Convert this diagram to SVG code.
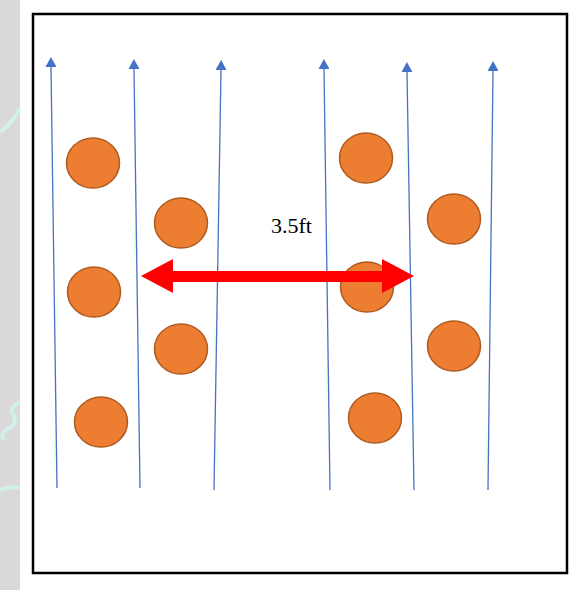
<svg xmlns="http://www.w3.org/2000/svg" width="572" height="590" viewBox="0 0 572 590">
<defs>
<style>
.row{stroke:#4472C4;stroke-width:1.3;fill:none}
.plant{fill:#ED7D31;stroke:#AE5A21;stroke-width:1.5}
.lbl{font-family:"Liberation Serif",serif;font-size:22px;fill:#000}
</style>
<marker id="tri" markerWidth="10" markerHeight="11" refX="0" refY="5.5" orient="auto" markerUnits="userSpaceOnUse" viewBox="0 0 10 11">
<path d="M0,0 L10,5.5 L0,11 Z" fill="#4472C4"/>
</marker>
</defs>
<rect x="0" y="0" width="572" height="590" fill="#ffffff"/>
<rect x="0" y="0" width="20" height="590" fill="#DAD8D8"/>
<g fill="none" stroke="#CFF7F2" stroke-width="4" opacity="0.8">
<path d="M0,132 Q12,124 20,108"/>
<path d="M20,402 Q8,408 14,416 Q18,424 6,430 Q0,434 4,440"/>
<path d="M0,490 Q10,486 20,488"/>
</g>
<rect x="33" y="14" width="534" height="559" fill="#ffffff" stroke="#000" stroke-width="2.5"/>
<g id="connectors">
<line class="row" x1="57" y1="488" x2="51" y2="67" marker-end="url(#tri)"/>
<line class="row" x1="140" y1="488" x2="134" y2="69" marker-end="url(#tri)"/>
<line class="row" x1="214" y1="490" x2="221" y2="70" marker-end="url(#tri)"/>
<line class="row" x1="330" y1="490" x2="324" y2="69" marker-end="url(#tri)"/>
<line class="row" x1="414" y1="490" x2="407" y2="72" marker-end="url(#tri)"/>
<line class="row" x1="488" y1="490" x2="493" y2="71" marker-end="url(#tri)"/>
</g>
<g id="plant1"><ellipse class="plant" cx="93" cy="163" rx="26.5" ry="25"/></g>
<g id="plant2"><ellipse class="plant" cx="181" cy="223" rx="26.5" ry="25"/></g>
<g id="plant3"><ellipse class="plant" cx="94" cy="292" rx="26.5" ry="25"/></g>
<g id="plant4"><ellipse class="plant" cx="181" cy="349" rx="26.5" ry="25"/></g>
<g id="plant5"><ellipse class="plant" cx="101" cy="422" rx="26.5" ry="25"/></g>
<g id="plant6"><ellipse class="plant" cx="366" cy="158" rx="26.5" ry="25"/></g>
<g id="plant7"><ellipse class="plant" cx="454" cy="219" rx="26.5" ry="25"/></g>
<g id="plant8"><ellipse class="plant" cx="367" cy="287" rx="26.5" ry="25"/></g>
<g id="plant9"><ellipse class="plant" cx="454" cy="346" rx="26.5" ry="25"/></g>
<g id="plant10"><ellipse class="plant" cx="375" cy="418" rx="26.5" ry="25"/></g>
<g id="spacing">
<path d="M141,276 L173,259 L173,271 L382,271 L382,259 L414,276 L382,293 L382,282 L173,282 L173,293 Z" fill="#FF0000"/>
<text class="lbl" x="271" y="233">3.5ft</text>
</g>
</svg>
